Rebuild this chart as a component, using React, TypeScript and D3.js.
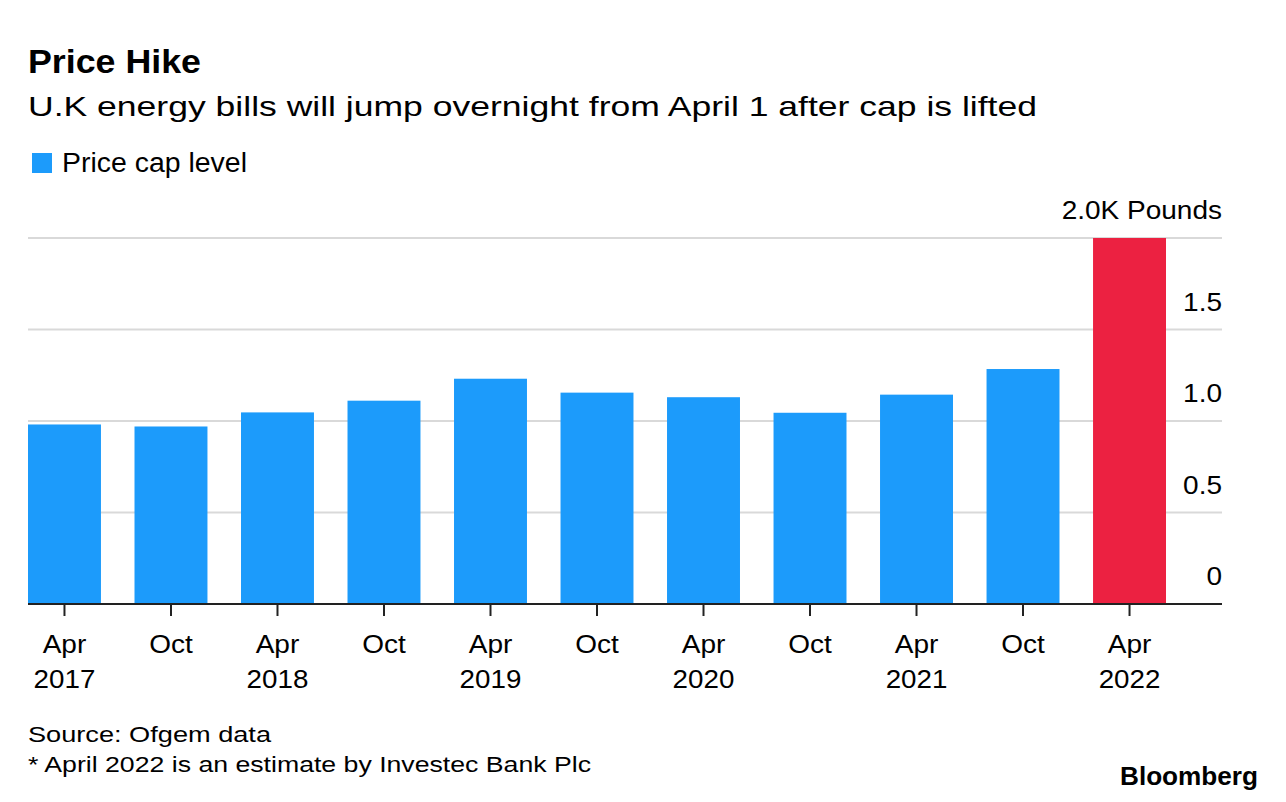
import React, { useEffect, useRef } from 'react';
import * as d3 from 'd3';

const periods = ['Apr 2017', 'Oct 2017', 'Apr 2018', 'Oct 2018', 'Apr 2019', 'Oct 2019', 'Apr 2020', 'Oct 2020', 'Apr 2021', 'Oct 2021', 'Apr 2022'];
const tickTop = ['Apr', 'Oct', 'Apr', 'Oct', 'Apr', 'Oct', 'Apr', 'Oct', 'Apr', 'Oct', 'Apr'];
const tickBottom = ['2017', '', '2018', '', '2019', '', '2020', '', '2021', '', '2022'];
const priceCap = [0.981, 0.970, 1.047, 1.111, 1.231, 1.155, 1.130, 1.045, 1.144, 1.284, 2.0];
const estimated = ['Apr 2022'];
const yTicks = [0, 0.5, 1.0, 1.5, 2.0];

const FONT = '"Liberation Sans", Arial, Helvetica, sans-serif';
const BLUE = '#1c9bfb';
const RED = '#ec2141';

// the reference face is wider than Liberation Sans, so stretch text a little
function widen(sel: d3.Selection<SVGTextElement, unknown, null, undefined>, factor: number) {
  const node = sel.node();
  if (!node) return sel;
  const w = node.getComputedTextLength();
  return sel.attr('textLength', w * factor).attr('lengthAdjust', 'spacingAndGlyphs');
}

const App: React.FC = () => {
  const svgRef = useRef<SVGSVGElement>(null);

  useEffect(() => {
    if (!svgRef.current) return;
    document.body.style.margin = '0';

    const width = 1286;
    const height = 802;
    const left = 28;
    const barsRight = 1166;
    const plotRight = 1222;
    const top = 238;
    const bottom = 604;

    const svg = d3.select(svgRef.current);
    svg.selectAll('*').remove();
    svg.attr('width', width).attr('height', height).style('font-family', FONT);

    svg.append('rect').attr('width', width).attr('height', height).attr('fill', '#fff');

    // headings
    const title = svg.append('text').attr('x', 28).attr('y', 73)
      .attr('font-size', 33).attr('font-weight', 700).attr('fill', '#000')
      .text('Price Hike');
    title.attr('textLength', 173).attr('lengthAdjust', 'spacingAndGlyphs');
    svg.append('text').attr('x', 28).attr('y', 116)
      .attr('font-size', 28).attr('fill', '#000')
      .attr('textLength', 1009).attr('lengthAdjust', 'spacingAndGlyphs')
      .text('U.K energy bills will jump overnight from April 1 after cap is lifted');

    // legend
    svg.append('rect').attr('x', 32).attr('y', 153).attr('width', 20).attr('height', 20).attr('fill', BLUE);
    svg.append('text').attr('x', 62).attr('y', 172)
      .attr('font-size', 27).attr('fill', '#000')
      .attr('textLength', 185).attr('lengthAdjust', 'spacingAndGlyphs')
      .text('Price cap level');

    const x = d3.scaleBand<string>()
      .domain(periods)
      .range([left, barsRight])
      .paddingInner(0.315)
      .paddingOuter(0);

    const y = d3.scaleLinear()
      .domain([0, 2])
      .range([bottom, top]);

    // gridlines
    const grid = svg.append('g');
    yTicks.filter(t => t > 0).forEach(t => {
      grid.append('line')
        .attr('x1', left).attr('x2', plotRight)
        .attr('y1', y(t)).attr('y2', y(t))
        .attr('stroke', '#d9d9d9').attr('stroke-width', 2);
    });

    // y labels
    yTicks.forEach(t => {
      const lbl = svg.append('text')
        .attr('x', plotRight).attr('y', y(t) - 19)
        .attr('text-anchor', 'end')
        .attr('font-size', 25).attr('fill', '#000')
        .text(t === 2 ? '2.0K Pounds' : t === 0 ? '0' : d3.format('.1f')(t));
      widen(lbl, 1.12);
    });

    // bars
    svg.append('g').selectAll('rect')
      .data(periods)
      .enter().append('rect')
      .attr('x', d => x(d) || 0)
      .attr('width', x.bandwidth())
      .attr('y', (d, i) => y(priceCap[i]))
      .attr('height', (d, i) => bottom - y(priceCap[i]))
      .attr('fill', d => estimated.includes(d) ? RED : BLUE);

    // baseline
    svg.append('line')
      .attr('x1', left).attr('x2', plotRight)
      .attr('y1', bottom).attr('y2', bottom)
      .attr('stroke', '#222').attr('stroke-width', 2);

    // x ticks
    const xt = svg.append('g');
    periods.forEach((p, i) => {
      const cx = (x(p) || 0) + x.bandwidth() / 2;
      xt.append('line')
        .attr('x1', cx).attr('x2', cx)
        .attr('y1', bottom).attr('y2', bottom + 12)
        .attr('stroke', '#222').attr('stroke-width', 2);
      const a = xt.append('text')
        .attr('x', cx).attr('y', 653)
        .attr('text-anchor', 'middle').attr('font-size', 25).attr('fill', '#000')
        .text(tickTop[i]);
      widen(a, 1.12);
      if (tickBottom[i]) {
        const b = xt.append('text')
          .attr('x', cx).attr('y', 688)
          .attr('text-anchor', 'middle').attr('font-size', 25).attr('fill', '#000')
          .text(tickBottom[i]);
        widen(b, 1.11);
      }
    });

    // footer
    svg.append('text').attr('x', 28).attr('y', 742)
      .attr('font-size', 22).attr('fill', '#000')
      .attr('textLength', 243).attr('lengthAdjust', 'spacingAndGlyphs')
      .text('Source: Ofgem data');
    svg.append('text').attr('x', 28).attr('y', 772)
      .attr('font-size', 22).attr('fill', '#000')
      .attr('textLength', 563).attr('lengthAdjust', 'spacingAndGlyphs')
      .text('* April 2022 is an estimate by Investec Bank Plc');
    svg.append('text').attr('x', 1120).attr('y', 785)
      .attr('font-size', 25).attr('font-weight', 700).attr('fill', '#000')
      .attr('textLength', 138).attr('lengthAdjust', 'spacingAndGlyphs')
      .text('Bloomberg');
  }, []);

  return <svg ref={svgRef} style={{ display: 'block' }} />;
};

export default App;
